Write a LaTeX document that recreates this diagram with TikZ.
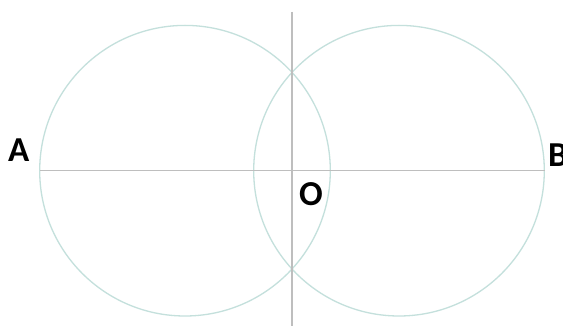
\documentclass[tikz,border=0pt]{standalone}
\usepackage{fontspec}
\setmainfont{Carlito}
\definecolor{circ}{RGB}{196,224,220}
\definecolor{ln}{RGB}{190,190,190}
\begin{document}
\begin{tikzpicture}[x=1pt,y=-1pt,
  circle line/.style={draw=circ,line width=1.3pt},
  axis/.style={draw=ln,line width=1.6pt},
  lbl/.style={font=\fontsize{35}{35}\selectfont\bfseries,inner sep=0pt}]
\useasboundingbox[fill=white] (0,0) rectangle (563,326);
\coordinate (cl) at (185,170.7);
\coordinate (cr) at (399,170.7);
\draw[circle line] (cl) circle[radius=145.3];
\draw[circle line] (cr) circle[radius=145.3];
\coordinate (a) at (40,170.7);
\coordinate (b) at (545,170.7);
\coordinate (t) at (292,12);
\coordinate (u) at (292,326);
\draw[axis] (a) -- (b);
\draw[axis] (t) -- (u);
\node[lbl,anchor=base west] (A) at (8,162) {A};
\node[lbl,anchor=base west] (B) at (548,167) {B};
\node[lbl,anchor=base west] (O) at (299,206) {O};
\end{tikzpicture}
\end{document}
